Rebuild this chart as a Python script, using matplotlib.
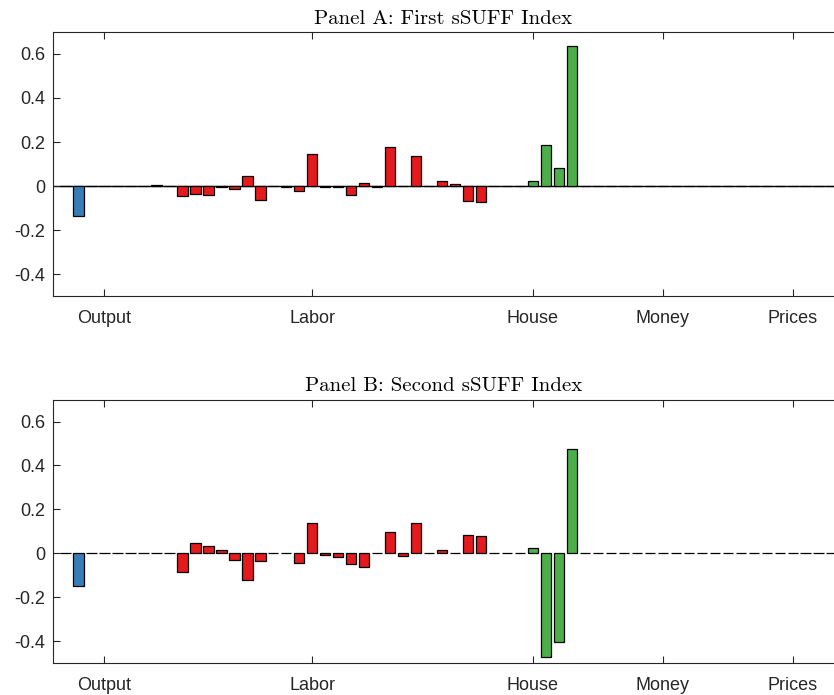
import matplotlib.pyplot as plt
import numpy as np

# loadings of each series on the two indices, series ordered by group
panel_a = [0, -0.135, 0, 0, 0, 0, 0, 0.003, 0, -0.046,
           -0.038, -0.043, -0.005, -0.012, 0.046, -0.064, 0, -0.005, -0.022, 0.147,
           -0.004, -0.003, -0.040, 0.012, -0.003, 0.178, 0, 0.137, 0, 0.024,
           0.008, -0.067, -0.073, 0.002, 0, 0, 0.021, 0.187, 0.081, 0.635,
           0, 0, 0, 0, 0, 0, 0, 0, 0, 0,
           0, 0, 0, 0, 0, 0, 0, 0, 0, 0]
panel_b = [0, -0.147, 0, 0, 0, 0, 0, 0, 0, -0.085,
           0.045, 0.033, 0.015, -0.029, -0.124, -0.036, 0, 0, -0.043, 0.139,
           -0.010, -0.018, -0.047, -0.064, 0, 0.095, -0.014, 0.136, 0, 0.014,
           0, 0.083, 0.079, 0, 0, 0, 0.022, -0.474, -0.406, 0.477,
           0, 0, 0, 0, 0, 0, 0, 0, 0, 0,
           0, 0, 0, 0, 0, 0, 0, 0, 0, 0]

groups = ['Output', 'Labor', 'House', 'Money', 'Prices']
group_sizes = [7, 29, 8, 8, 8]
group_colors = ['#377EB8', '#E41A1C', '#4DAF4A', '#FF7F00', '#984EA3']
group_ticks = [4, 20, 37, 47, 57]

titles = ['Panel A: First sSUFF Index', 'Panel B: Second sSUFF Index']

plt.rcParams['font.family'] = ['Liberation Sans', 'DejaVu Sans']
plt.rcParams['axes.unicode_minus'] = False

x = np.arange(1, len(panel_a) + 1)
colors = np.repeat(group_colors, group_sizes)

fig = plt.figure(figsize=(8.34, 6.95), dpi=100)
positions = [[0.063, 0.574, 0.937, 0.380], [0.063, 0.046, 0.937, 0.379]]

for i, values in enumerate([panel_a, panel_b]):
    ax = fig.add_axes(positions[i])
    if i == 0:
        ax.axhline(0, color='black', lw=1.0, zorder=1)
    ax.bar(x, values, width=0.8, color=colors, edgecolor='black',
           linewidth=0.9, zorder=2)
    ax.set_xlim(0, 60.18)
    ax.set_ylim(-0.5, 0.7)
    ax.set_yticks([-0.4, -0.2, 0, 0.2, 0.4, 0.6])
    ax.set_yticklabels(['-0.4', '-0.2', '0', '0.2', '0.4', '0.6'])
    ax.set_xticks(group_ticks)
    ax.set_xticklabels(groups)
    ax.tick_params(axis='x', direction='in', top=True, length=5, pad=10,
                   labelsize=13, color='#262626', labelcolor='#262626')
    ax.tick_params(axis='y', direction='in', length=5, pad=5,
                   labelsize=13, color='#262626', labelcolor='#262626')
    ax.spines['right'].set_visible(False)
    for side in ['left', 'top', 'bottom']:
        ax.spines[side].set_color('#262626')
        ax.spines[side].set_linewidth(0.8)
    ax.set_title(titles[i], fontname='cmr10', fontsize=15, pad=6)

plt.savefig('out.png')
